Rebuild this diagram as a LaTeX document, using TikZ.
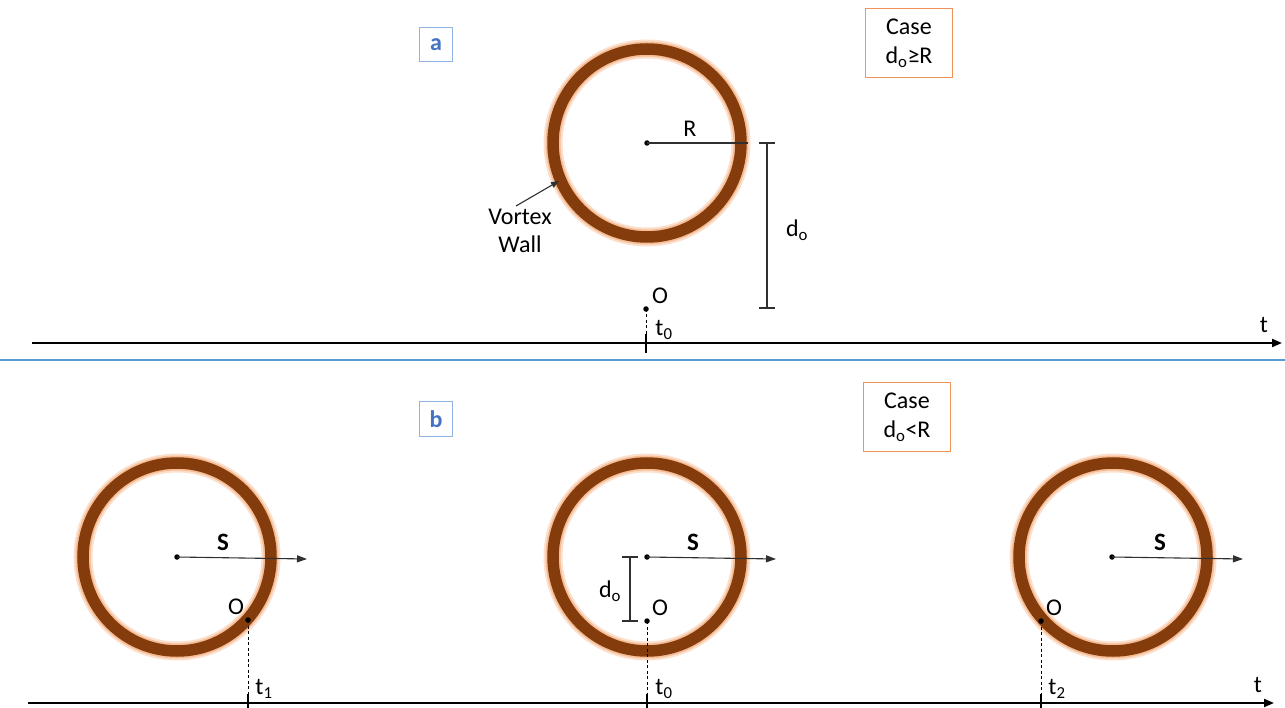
\documentclass[tikz,border=0pt]{standalone}
\usepackage{fontspec}
\setmainfont{Carlito}
\usetikzlibrary{arrows.meta}
\definecolor{ringbrown}{HTML}{843C0C}
\definecolor{ringglow}{HTML}{F4B183}
\definecolor{sepblue}{HTML}{5B9BD5}
\definecolor{lblblue}{HTML}{4472C4}
\definecolor{boxblue}{HTML}{8FB4E3}
\definecolor{boxorange}{HTML}{F0935A}
\definecolor{dimgray}{HTML}{303030}
\tikzset{
  vortex/.pic={
    \draw[ringglow!40, line width=19pt] (0,0) circle[radius=94];
    \draw[ringglow!85, line width=15pt] (0,0) circle[radius=94];
    \draw[ringbrown, line width=11.5pt] (0,0) circle[radius=94];
  },
  dot/.style={circle, fill=black, inner sep=0pt, minimum size=5.5pt},
  axisline/.style={line width=2pt, -{Triangle[length=10pt,width=8pt]}},
  tickline/.style={line width=1.6pt},
  thinline/.style={line width=1.3pt, dimgray},
  dashline/.style={line width=1pt, dash pattern=on 3pt off 2.5pt},
  sarrow/.style={line width=1.1pt, dimgray, -{Triangle[length=10pt,width=7pt]}},
  lbl/.style={inner sep=0pt},
  sfont/.style={font=\fontsize{25}{28}\selectfont\bfseries},
  letterbox/.style={draw=boxblue, line width=1pt, minimum width=33pt, minimum height=34pt, inner sep=0pt, text=lblblue, font=\fontsize{24}{26}\selectfont\bfseries},
  casebox/.style={draw=boxorange, line width=1.2pt, minimum width=87pt, minimum height=69pt, inner sep=0pt, align=center, font=\fontsize{24}{29}\selectfont},
}
\begin{document}
\begin{tikzpicture}[x=1pt, y=-1pt, font=\fontsize{24}{28}\selectfont]
\useasboundingbox (0,0) rectangle (1285,708);
\fill[white] (0,0) rectangle (1285,708);

% ---------------- panel a ----------------
\node[letterbox] (boxa) at (436,45) {a};
\node[casebox] (casea) at (909,43) {Case\\d\textsubscript{o}≥R};

\pic at (647,143) {vortex};
\node[dot] (ca) at (647,143) {};
\coordinate (ra) at (748,143);
\draw[thinline] (ca.center) -- (ra);
\node[lbl] (Rlbl) at (690,129) {R};

\coordinate (dA1) at (767,143);
\coordinate (dA2) at (767,308);
\draw[thinline] (dA1) -- (dA2);
\draw[thinline] ([xshift=-8pt]dA1) -- ([xshift=8pt]dA1);
\draw[thinline] ([xshift=-8pt]dA2) -- ([xshift=8pt]dA2);
\node[lbl] (doA) at (797,230) {d\textsubscript{o}};

\node[align=center, lbl] (vw) at (520,231) {Vortex\\Wall};
\coordinate (vwtip) at (559,181);
\draw[line width=1.1pt, dimgray, -{Triangle[length=8pt,width=6pt]}] (516,206) -- (vwtip);

\node[dot] (oA) at (646,309) {};
\node[lbl] (oAl) at (660,296) {O};
\coordinate (axA0) at (32,343);
\coordinate (axA1) at (1282,343);
\coordinate (tA0) at (646,343);
\draw[axisline] (axA0) -- (axA1);
\draw[dashline] (oA.center) -- (tA0);
\draw[tickline] ([yshift=9pt]tA0) -- ([yshift=-10pt]tA0);
\node[lbl] (t0A) at (664,330) {t\textsubscript{0}};
\node[lbl] (tA) at (1264,325) {t};

% separator
\coordinate (sep0) at (0,360);
\coordinate (sep1) at (1285,360);
\draw[sepblue, line width=1.2pt] (sep0) -- (sep1);

% ---------------- panel b ----------------
\node[letterbox] (boxb) at (436,419) {b};
\node[casebox] (caseb) at (907,417) {Case\\d\textsubscript{o}<R};

\coordinate (axB0) at (28,703);
\coordinate (axB1) at (1274,703);
\draw[axisline] (axB0) -- (axB1);
\node[lbl] (tB) at (1258,685) {t};

% circle 1
\pic at (177,557) {vortex};
\node[dot] (c1) at (177,557) {};
\coordinate (s1) at (307,559);
\draw[sarrow] (c1.center) -- (s1);
\node[lbl, sfont] (S1) at (223,542) {S};
\node[dot] (o1) at (248,620) {};
\node[lbl] (o1l) at (236,607) {O};
\coordinate (t1p) at (248,703);
\draw[dashline] (o1.center) -- (t1p);
\draw[tickline] ([yshift=9pt]t1p) -- ([yshift=-6pt]t1p);
\node[lbl] (t1l) at (264,689) {t\textsubscript{1}};

% circle 2
\pic at (647,557) {vortex};
\node[dot] (c2) at (647,557) {};
\coordinate (s2) at (776,559);
\draw[sarrow] (c2.center) -- (s2);
\node[lbl, sfont] (S2) at (693,542) {S};
\node[dot] (o2) at (647,621) {};
\node[lbl] (o2l) at (660,608) {O};
\coordinate (dB1) at (630,557);
\coordinate (dB2) at (630,621);
\draw[thinline] (dB1) -- (dB2);
\draw[thinline] ([xshift=-8pt]dB1) -- ([xshift=8pt]dB1);
\draw[thinline] ([xshift=-8pt]dB2) -- ([xshift=8pt]dB2);
\node[lbl] (doB) at (610,591) {d\textsubscript{o}};
\coordinate (t0p) at (647,703);
\draw[dashline] (o2.center) -- (t0p);
\draw[tickline] ([yshift=9pt]t0p) -- ([yshift=-6pt]t0p);
\node[lbl] (t0l) at (664,689) {t\textsubscript{0}};

% circle 3
\pic at (1113,557) {vortex};
\node[dot] (c3) at (1112,557) {};
\coordinate (s3) at (1243,559);
\draw[sarrow] (c3.center) -- (s3);
\node[lbl, sfont] (S3) at (1160,542) {S};
\node[dot] (o3) at (1041,621) {};
\node[lbl] (o3l) at (1054,608) {O};
\coordinate (t2p) at (1041,703);
\draw[dashline] (o3.center) -- (t2p);
\draw[tickline] ([yshift=9pt]t2p) -- ([yshift=-6pt]t2p);
\node[lbl] (t2l) at (1057,689) {t\textsubscript{2}};
\end{tikzpicture}
\end{document}
